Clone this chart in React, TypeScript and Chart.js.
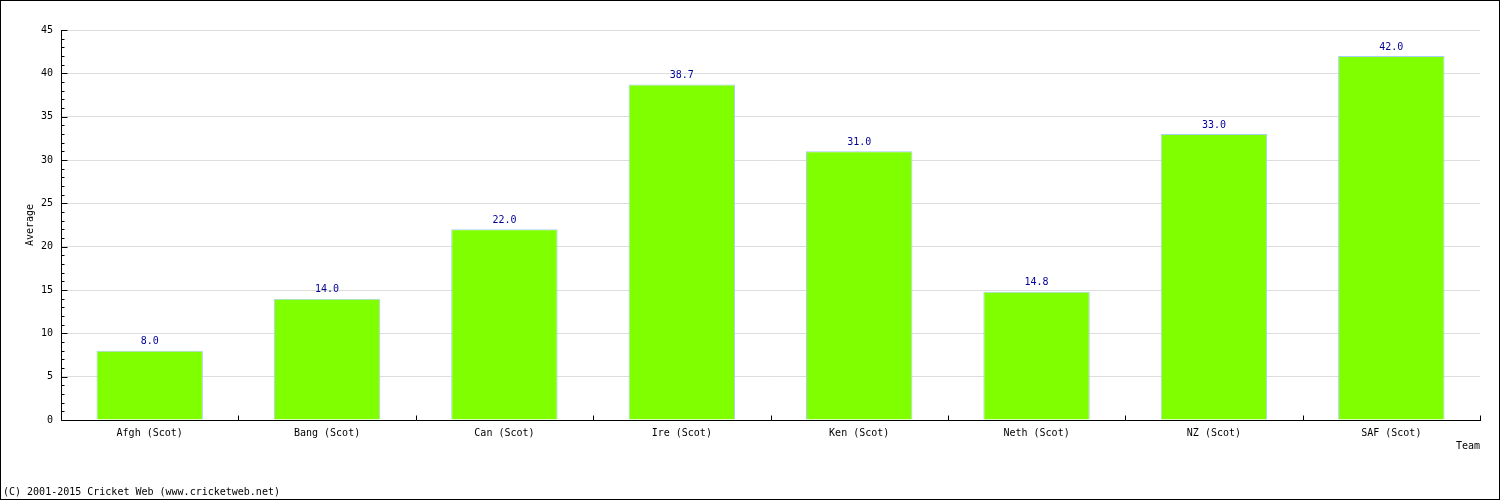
import React, { useEffect, useRef } from "react";
import { Chart, registerables } from "chart.js";

Chart.register(...registerables);

const categories = ["Afgh (Scot)", "Bang (Scot)", "Can (Scot)", "Ire (Scot)", "Ken (Scot)", "Neth (Scot)", "NZ (Scot)", "SAF (Scot)"];
const averages = [8.0, 14.0, 22.0, 38.7, 31.0, 14.8, 33.0, 42.0];
const yMin = 0;
const yMax = 45;
const yStep = 5;
const yMinorStep = 1;
const xTitle = "Team";
const yTitle = "Average";
const footer = "(C) 2001-2015 Cricket Web (www.cricketweb.net)";

const FONT = "DejaVu Sans Mono";

const decorPlugin = {
  id: "decor",
  afterDraw(chart: any) {
    const ctx = chart.ctx;
    const area = chart.chartArea;
    const ys = chart.scales.y;
    const xs = chart.scales.x;
    ctx.save();
    // frame
    ctx.strokeStyle = "#000";
    ctx.lineWidth = 1;
    ctx.strokeRect(0.5, 0.5, chart.width - 1, chart.height - 1);
    // axes lines
    const ax = Math.round(area.left) + 0.5;
    const ay = Math.round(area.bottom) + 0.5;
    ctx.beginPath();
    ctx.moveTo(ax, Math.round(area.top));
    ctx.lineTo(ax, ay);
    ctx.lineTo(Math.round(area.right) + 1, ay);
    ctx.stroke();
    // y ticks (inward)
    ctx.beginPath();
    for (let v = yMin; v <= yMax; v += yMinorStep) {
      const py = Math.round(ys.getPixelForValue(v)) + 0.5;
      const len = v % yStep === 0 ? 6 : 3;
      ctx.moveTo(ax, py);
      ctx.lineTo(ax + len, py);
    }
    // x ticks at category boundaries
    const n = categories.length;
    for (let i = 1; i <= n; i++) {
      const px = Math.round((xs.getPixelForValue(i - 1) + (i < n ? xs.getPixelForValue(i) : xs.getPixelForValue(i - 1) + (xs.getPixelForValue(1) - xs.getPixelForValue(0)))) / 2) + 0.5;
      ctx.moveTo(px, ay);
      ctx.lineTo(px, ay - 5);
    }
    ctx.stroke();
    // value labels
    ctx.font = `10px "${FONT}"`;
    ctx.fillStyle = "#000099";
    ctx.textAlign = "center";
    ctx.textBaseline = "bottom";
    const meta = chart.getDatasetMeta(0);
    meta.data.forEach((bar: any, i: number) => {
      ctx.fillText(averages[i].toFixed(1), bar.x, bar.y - 4);
    });
    // titles
    ctx.fillStyle = "#000";
    ctx.textAlign = "right";
    ctx.textBaseline = "middle";
    ctx.fillText(xTitle, Math.round(area.right), 446);
    ctx.save();
    ctx.translate(30, (area.top + area.bottom) / 2);
    ctx.rotate(-Math.PI / 2);
    ctx.textAlign = "center";
    ctx.fillText(yTitle, 0, 0);
    ctx.restore();
    ctx.textAlign = "left";
    ctx.fillText(footer, 3, 492);
    ctx.restore();
  },
};

export default function App() {
  const ref = useRef<HTMLCanvasElement>(null);
  useEffect(() => {
    if (!ref.current) return;
    const chart = new Chart(ref.current, {
      type: "bar",
      data: {
        labels: categories,
        datasets: [
          {
            data: averages,
            backgroundColor: "#80FF00",
            borderColor: "#A8D0F0",
            borderWidth: 1,
            categoryPercentage: 1,
            barPercentage: 0.6,
          },
        ],
      },
      options: {
        animation: false,
        responsive: false,
        maintainAspectRatio: false,
        layout: { padding: { top: 30, right: 20, left: 0, bottom: 0 } },
        plugins: { legend: { display: false }, tooltip: { enabled: false } },
        scales: {
          x: {
            grid: { display: false, drawTicks: false },
            border: { display: false },
            ticks: { color: "#000", font: { family: FONT, size: 10 }, padding: 7, maxRotation: 0, autoSkip: false },
            afterFit(s: any) {
              s.height = 80;
            },
          },
          y: {
            min: yMin,
            max: yMax,
            grid: { color: "#dddddd", drawTicks: false },
            border: { display: false },
            ticks: { stepSize: yStep, color: "#000", font: { family: FONT, size: 10 }, padding: 8 },
            afterFit(s: any) {
              s.width = 61;
            },
          },
        },
      },
      plugins: [decorPlugin],
    });
    return () => chart.destroy();
  }, []);
  return (
    <div style={{ position: "absolute", left: 0, top: 0, width: 1500, height: 500, background: "#fff" }}>
      <canvas ref={ref} width={1500} height={500} style={{ width: 1500, height: 500, display: "block" }} />
    </div>
  );
}
